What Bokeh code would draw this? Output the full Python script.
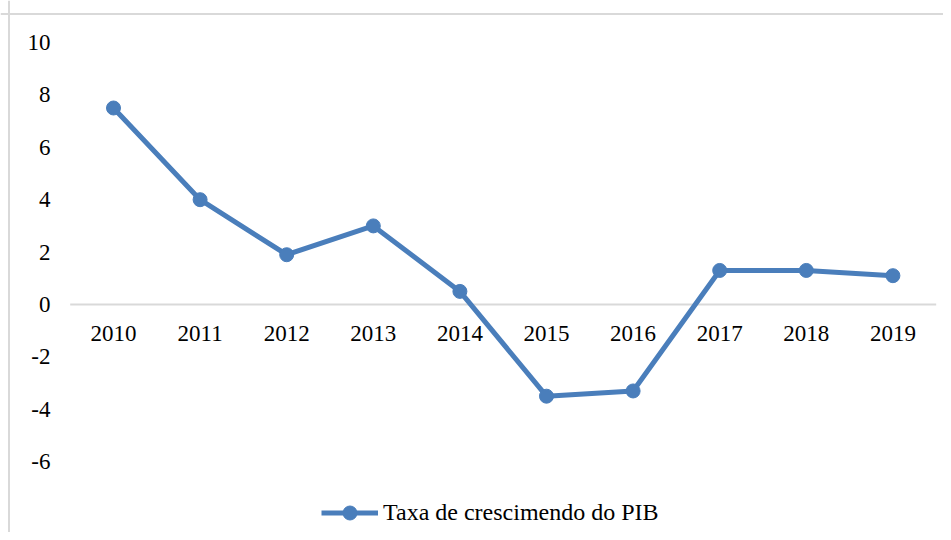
from bokeh.plotting import figure
from bokeh.models import Range1d, Span, Legend, LegendItem, ColumnDataSource
from bokeh.core.properties import value
from bokeh.embed import file_html
from bokeh.resources import INLINE

years = ["2010", "2011", "2012", "2013", "2014", "2015", "2016", "2017", "2018", "2019"]
pib = [7.5, 4.0, 1.9, 3.0, 0.5, -3.5, -3.3, 1.3, 1.3, 1.1]
y_ticks = [10, 8, 6, 4, 2, 0, -2, -4, -6]
series_name = "Taxa de crescimendo do PIB"

FONT_NAME = "Liberation Serif"
FONT = value(FONT_NAME)
BLUE = "#4A7EBB"
GRAY = "#D9D9D9"
TXT = "#000000"

W, H = 943, 532
step = 86.6
x0 = -113 / step
x1 = (W - 113) / step
ppu = 26.2
y1 = 10 + 42 / ppu
y0 = -(H - 304) / ppu

p = figure(width=W, height=H, output_backend="svg", toolbar_location=None,
           x_range=Range1d(x0, x1), y_range=Range1d(y0, y1),
           min_border_left=0, min_border_right=0, min_border_top=0, min_border_bottom=0)
p.xaxis.visible = False
p.yaxis.visible = False
p.xgrid.visible = False
p.ygrid.visible = False
p.outline_line_color = None
p.background_fill_color = "white"
p.border_fill_color = "white"

# chart border (left and top visible)
p.add_layout(Span(location=x0 + 8.5 / step, dimension="height", line_color=GRAY, line_width=2))
p.add_layout(Span(location=y1 - 13.5 / ppu, dimension="width", line_color=GRAY, line_width=2))

xs = list(range(len(years)))

# zero axis line
p.line(x=[-0.5, len(years) - 0.5], y=[0, 0], line_color=GRAY, line_width=2)

# y tick labels
p.text(x=[x0] * len(y_ticks), y=y_ticks, text=[str(t) for t in y_ticks],
       x_offset=50, text_align="right", text_baseline="middle",
       text_font=FONT, text_font_size="23px", text_color=TXT)

# category labels
p.text(x=xs, y=[0] * len(years), text=years, y_offset=29,
       text_align="center", text_baseline="middle",
       text_font=FONT, text_font_size="23px", text_color=TXT)

src = ColumnDataSource(dict(x=xs, y=pib))
ln = p.line("x", "y", source=src, line_color=BLUE, line_width=5, line_join="round")
sc = p.scatter("x", "y", source=src, size=14, fill_color=BLUE, line_color=BLUE)

legend = Legend(items=[LegendItem(label=series_name, renderers=[ln, sc])],
                location=(321, 2), orientation="horizontal",
                label_text_font=FONT_NAME, label_text_font_size="24px", label_text_color=TXT,
                glyph_width=57, glyph_height=35, label_standoff=5,
                padding=0, margin=0, spacing=0,
                border_line_color=None, background_fill_alpha=0)
p.add_layout(legend, "center")

open("out.html", "w").write(file_html(p, INLINE))
